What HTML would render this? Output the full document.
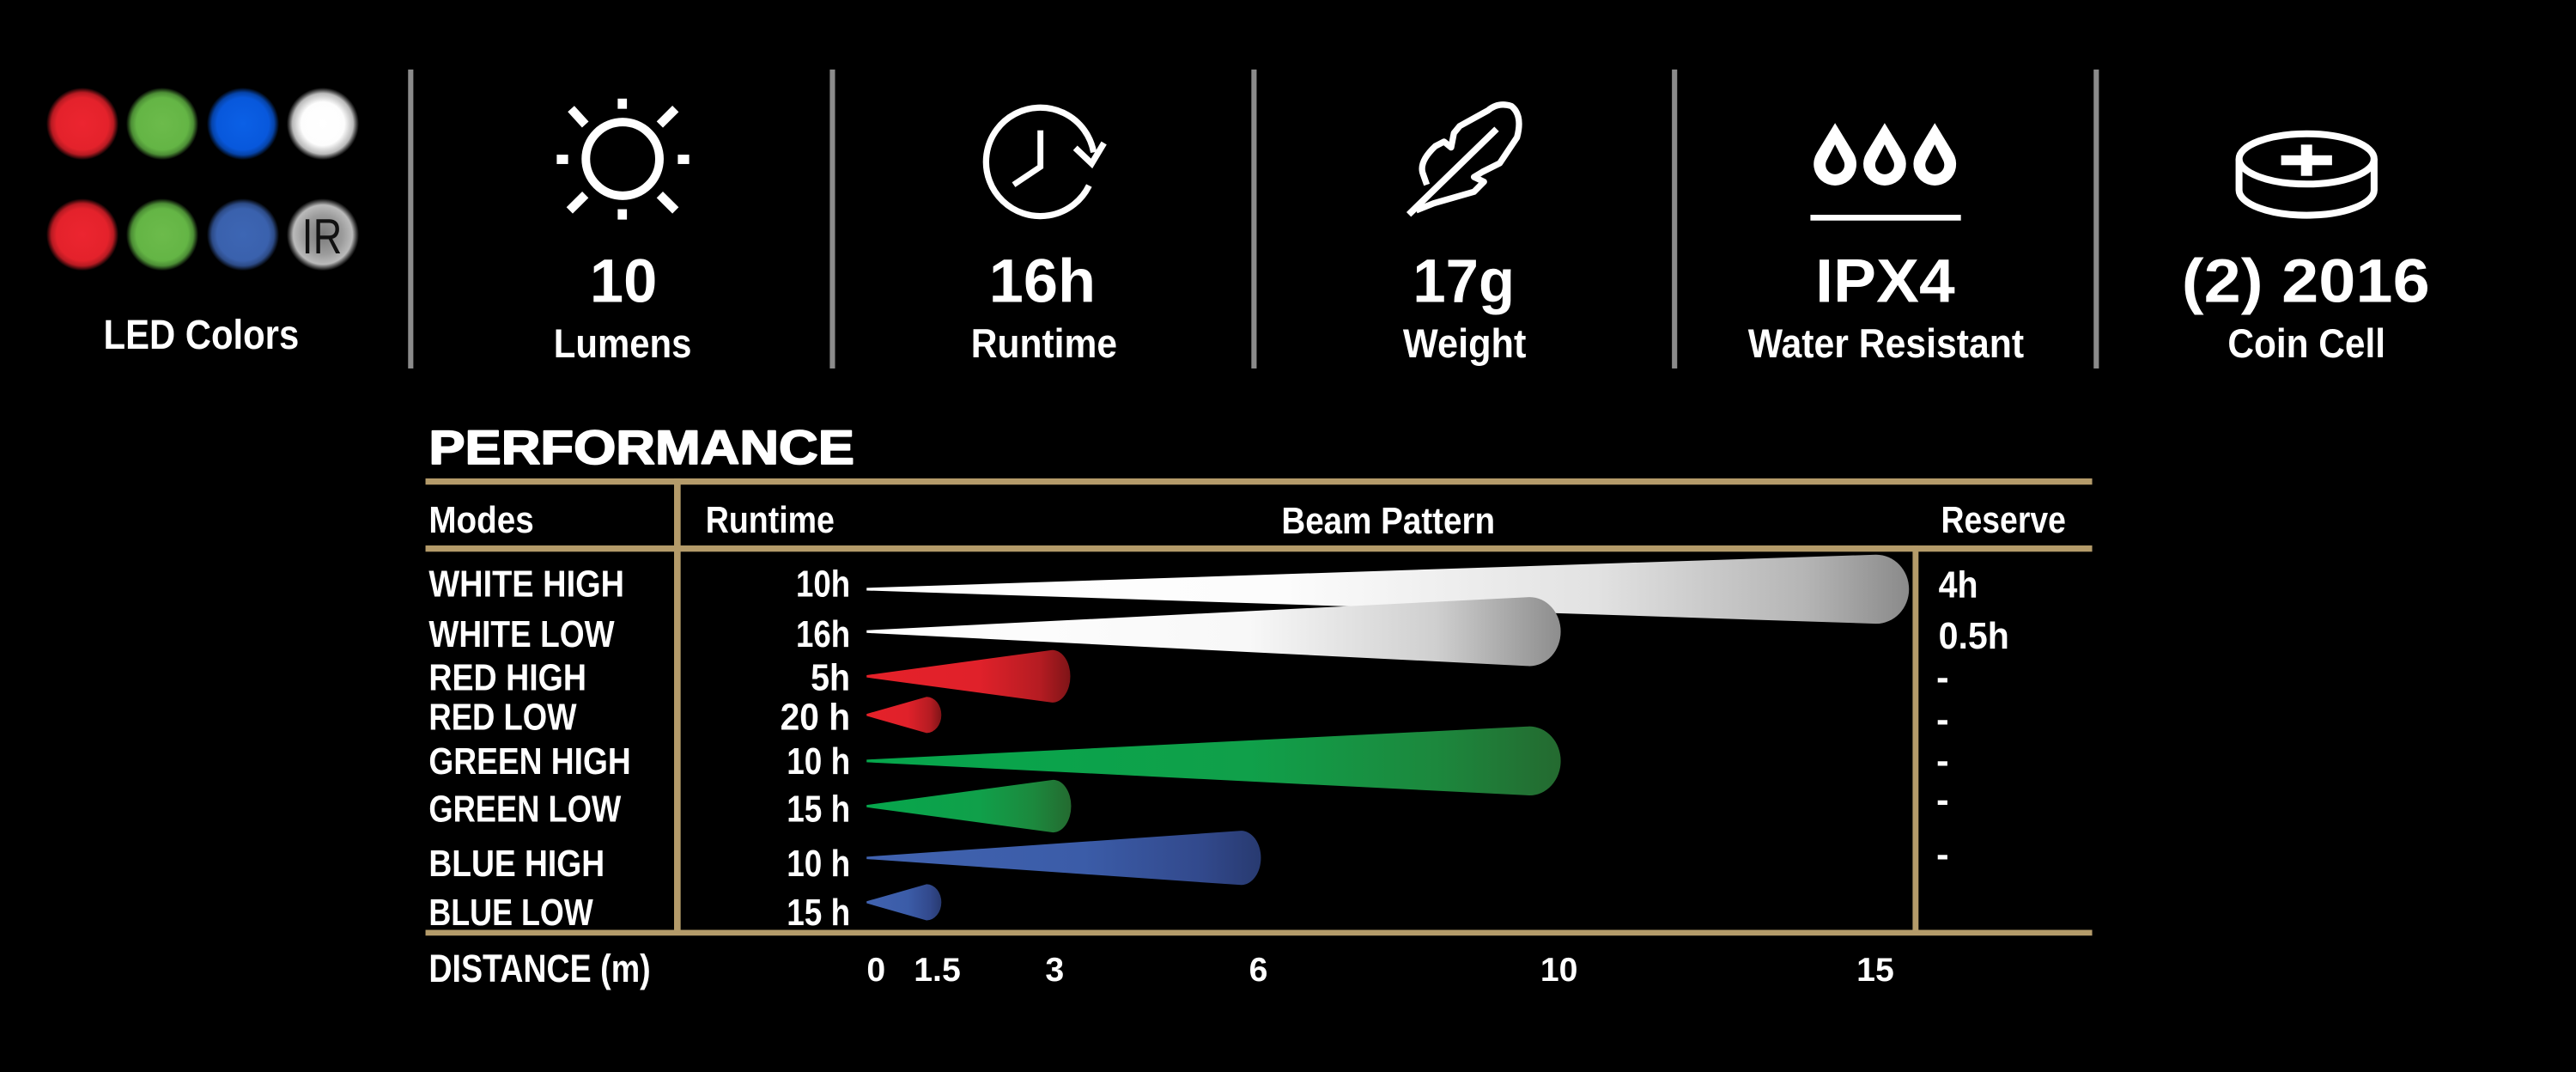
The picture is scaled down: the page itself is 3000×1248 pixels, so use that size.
<!DOCTYPE html>
<html>
<head>
<meta charset="utf-8">
<style>
html,body{margin:0;padding:0;background:#000;width:3000px;height:1248px;overflow:hidden}
svg{display:block}
.c{font-family:"Liberation Sans Narrow","Liberation Sans",Arial,sans-serif;font-weight:bold;fill:#fff}
.w{font-family:"Liberation Sans",Arial,sans-serif;font-weight:bold;fill:#fff}
</style>
</head>
<body>
<svg xmlns="http://www.w3.org/2000/svg" width="3000" height="1248" viewBox="0 0 1568 652.28" preserveAspectRatio="none">
<defs>
  <radialGradient id="lr"><stop offset="0" stop-color="#ec2530"/><stop offset="0.72" stop-color="#e4222b"/><stop offset="0.86" stop-color="#d81f28" stop-opacity="0.85"/><stop offset="1" stop-color="#d81f28" stop-opacity="0"/></radialGradient>
  <radialGradient id="lg"><stop offset="0" stop-color="#6cbb4b"/><stop offset="0.72" stop-color="#64b545"/><stop offset="0.86" stop-color="#5aa83f" stop-opacity="0.85"/><stop offset="1" stop-color="#5aa83f" stop-opacity="0"/></radialGradient>
  <radialGradient id="lb"><stop offset="0" stop-color="#0b60e6"/><stop offset="0.72" stop-color="#0858dc"/><stop offset="0.86" stop-color="#0750c8" stop-opacity="0.85"/><stop offset="1" stop-color="#0750c8" stop-opacity="0"/></radialGradient>
  <radialGradient id="lw"><stop offset="0" stop-color="#ffffff"/><stop offset="0.6" stop-color="#fdfdfd"/><stop offset="0.84" stop-color="#cfcfcf" stop-opacity="0.9"/><stop offset="1" stop-color="#aaa" stop-opacity="0"/></radialGradient>
  <radialGradient id="lb2"><stop offset="0" stop-color="#3d66b4"/><stop offset="0.72" stop-color="#3a61ad"/><stop offset="0.86" stop-color="#3559a0" stop-opacity="0.85"/><stop offset="1" stop-color="#3559a0" stop-opacity="0"/></radialGradient>
  <radialGradient id="lir"><stop offset="0" stop-color="#7a7a7a"/><stop offset="0.55" stop-color="#9c9c9c"/><stop offset="0.82" stop-color="#c4c4c4" stop-opacity="0.95"/><stop offset="1" stop-color="#aaa" stop-opacity="0"/></radialGradient>

  <linearGradient id="gwh" x1="0" y1="0" x2="1" y2="0"><stop offset="0" stop-color="#fff"/><stop offset="0.4" stop-color="#fcfcfc"/><stop offset="0.7" stop-color="#e2e2e2"/><stop offset="0.9" stop-color="#b5b5b5"/><stop offset="1" stop-color="#8a8a8a"/></linearGradient>
  <linearGradient id="gwl" x1="0" y1="0" x2="1" y2="0"><stop offset="0" stop-color="#fff"/><stop offset="0.55" stop-color="#f8f8f8"/><stop offset="0.82" stop-color="#cfcfcf"/><stop offset="1" stop-color="#8d8d8d"/></linearGradient>
  <linearGradient id="gr" x1="0" y1="0" x2="1" y2="0"><stop offset="0" stop-color="#e52129"/><stop offset="0.55" stop-color="#e0212a"/><stop offset="0.85" stop-color="#b51c22"/><stop offset="1" stop-color="#7e1417"/></linearGradient>
  <linearGradient id="gg" x1="0" y1="0" x2="1" y2="0"><stop offset="0" stop-color="#06a64c"/><stop offset="0.55" stop-color="#10a04a"/><stop offset="0.82" stop-color="#1c883d"/><stop offset="1" stop-color="#246a30"/></linearGradient>
  <linearGradient id="gb" x1="0" y1="0" x2="1" y2="0"><stop offset="0" stop-color="#4163b0"/><stop offset="0.55" stop-color="#3b5ca8"/><stop offset="0.85" stop-color="#32498c"/><stop offset="1" stop-color="#283a70"/></linearGradient>
</defs>

<rect x="0" y="0" width="1568" height="652.28" fill="#000"/>

<!-- LED circles -->
<circle cx="50.2" cy="75.3" r="22" fill="url(#lr)"/>
<circle cx="98.8" cy="75.3" r="22" fill="url(#lg)"/>
<circle cx="147.9" cy="75.3" r="22" fill="url(#lb)"/>
<circle cx="196.5" cy="75.3" r="22" fill="url(#lw)"/>
<circle cx="50.2" cy="142.8" r="22" fill="url(#lr)"/>
<circle cx="98.8" cy="142.8" r="22" fill="url(#lg)"/>
<circle cx="147.9" cy="142.8" r="22" fill="url(#lb2)"/>
<circle cx="196.5" cy="142.8" r="22" fill="url(#lir)"/>
<text x="196" y="154.2" font-family="Liberation Sans, Arial, sans-serif" font-size="30" fill="#111" text-anchor="middle" textLength="24.4" lengthAdjust="spacingAndGlyphs">IR</text>
<text class="c" x="122.5" y="212.3" font-size="25" text-anchor="middle" textLength="119" lengthAdjust="spacingAndGlyphs">LED Colors</text>

<!-- dividers -->
<g fill="#8b8b8b">
  <rect x="248.4" y="42.3" width="3.2" height="181.9"/>
  <rect x="505.1" y="42.3" width="3.2" height="181.9"/>
  <rect x="761.7" y="42.3" width="3.2" height="181.9"/>
  <rect x="1017.7" y="42.3" width="3.2" height="181.9"/>
  <rect x="1274.4" y="42.3" width="3.2" height="181.9"/>
</g>

<!-- sun -->
<g fill="#fff" stroke="#fff">
  <circle cx="379" cy="96.7" r="22.4" fill="none" stroke-width="5.2"/>
  <rect x="376" y="60" width="5.6" height="6.2" stroke="none"/>
  <rect x="376" y="127.3" width="5.6" height="6.3" stroke="none"/>
  <rect x="338.9" y="94.1" width="6.9" height="5.7" stroke="none"/>
  <rect x="412.6" y="94.1" width="6.9" height="5.7" stroke="none"/>
  <g stroke-width="5.4" fill="none">
    <line x1="347.6" y1="66.2" x2="356.3" y2="75.8"/>
    <line x1="411.2" y1="66.2" x2="401.6" y2="75.8"/>
    <line x1="356.3" y1="118.5" x2="346.7" y2="128"/>
    <line x1="401.6" y1="118.5" x2="411.2" y2="128"/>
  </g>
</g>

<!-- clock -->
<g fill="none" stroke="#fff" stroke-width="3.8">
  <path d="M 662.9 112.9 A 33 33 0 1 1 665.7 92.7"/>
  <polyline points="654.5,90 664.5,99.5 672,87"/>
  <polyline points="633.3,79.3 633.3,101.5 617,112.4" stroke-width="3.6"/>
</g>

<!-- feather -->
<g fill="none" stroke="#fff" stroke-width="3.8" stroke-linejoin="round">
  <line x1="857.5" y1="130.5" x2="911" y2="78.5" stroke-width="4"/>
  <path d="M 862 128 L 872.8 123.7 L 897.2 116.7 L 903.3 110.6 L 897.2 107.7 L 902.5 104.5 L 912.9 99.3 L 923.4 83.6 Q 927 70 919.9 64.5 Q 912 62 905.9 67.1 L 888.5 76.7 L 885 81 L 883.3 89.7 L 879 86.2 L 873.7 88.9 Q 864 98 865.9 105 L 868.5 112.4"/>
</g>

<!-- drops -->
<g fill="#fff">
  <path d="M 1117 74.9 L 1128.1 93.1 A 13 13 0 1 1 1105.9 93.1 Z"/>
  <path d="M 1147.2 74.9 L 1158.3 93.1 A 13 13 0 1 1 1136.1 93.1 Z"/>
  <path d="M 1177.7 74.9 L 1188.8 93.1 A 13 13 0 1 1 1166.6 93.1 Z"/>
  <rect x="1102" y="130.7" width="91.6" height="3.5"/>
</g>
<g fill="#000">
  <path d="M 1117 87.9 L 1122.1 97.6 A 5.75 5.75 0 1 1 1111.9 97.6 Z"/>
  <path d="M 1147.2 87.9 L 1152.3 97.6 A 5.75 5.75 0 1 1 1142.1 97.6 Z"/>
  <path d="M 1177.7 87.9 L 1182.8 97.6 A 5.75 5.75 0 1 1 1172.6 97.6 Z"/>
</g>

<!-- coin -->
<g fill="none" stroke="#fff" stroke-width="4.2">
  <ellipse cx="1404" cy="96.7" rx="41.1" ry="15.3"/>
  <path d="M 1362.9 96.7 L 1362.9 115.7 A 41.1 15.3 0 0 0 1445.1 115.7 L 1445.1 96.7"/>
</g>
<g fill="#fff">
  <rect x="1388.5" y="94.5" width="31" height="6"/>
  <rect x="1400.6" y="88" width="6.8" height="19"/>
</g>

<!-- top values -->
<g class="c" font-size="37.5" text-anchor="middle">
  <text class="c" x="379.5" y="183.8" textLength="41" lengthAdjust="spacingAndGlyphs">10</text>
  <text class="c" x="634.5" y="183.8" textLength="65" lengthAdjust="spacingAndGlyphs">16h</text>
  <text class="c" x="891" y="183.8" textLength="62" lengthAdjust="spacingAndGlyphs">17g</text>
  <text class="c" x="1147.5" y="183.8" textLength="85" lengthAdjust="spacingAndGlyphs">IPX4</text>
  <text class="c" x="1403.5" y="183.8" textLength="151" lengthAdjust="spacingAndGlyphs">(2) 2016</text>
</g>
<g class="c" font-size="24.5" text-anchor="middle">
  <text class="c" x="379" y="217.3" textLength="84" lengthAdjust="spacingAndGlyphs">Lumens</text>
  <text class="c" x="635.5" y="217.3" textLength="89" lengthAdjust="spacingAndGlyphs">Runtime</text>
  <text class="c" x="891.5" y="217.3" textLength="75" lengthAdjust="spacingAndGlyphs">Weight</text>
  <text class="c" x="1148" y="217.3" textLength="168" lengthAdjust="spacingAndGlyphs">Water Resistant</text>
  <text class="c" x="1404" y="217.3" textLength="96" lengthAdjust="spacingAndGlyphs">Coin Cell</text>
</g>

<!-- PERFORMANCE -->
<text class="w" x="261" y="282.2" font-size="29" stroke="#fff" stroke-width="0.9" stroke-linejoin="round" textLength="259" lengthAdjust="spacingAndGlyphs">PERFORMANCE</text>

<!-- gold table lines -->
<g fill="#b49b6a">
  <rect x="259" y="291.1" width="1014.5" height="3.8"/>
  <rect x="259" y="331.9" width="1014.5" height="3.8"/>
  <rect x="259" y="565.8" width="1014.5" height="3.5"/>
  <rect x="410.3" y="291.1" width="4" height="278"/>
  <rect x="1164.2" y="331.9" width="3.6" height="237"/>
</g>

<!-- header row -->
<g class="c" font-size="23">
  <text class="c" x="261" y="324" textLength="64" lengthAdjust="spacingAndGlyphs">Modes</text>
  <text class="c" x="429.5" y="324" textLength="78.5" lengthAdjust="spacingAndGlyphs">Runtime</text>
  <text class="c" x="780" y="324.5" textLength="130" lengthAdjust="spacingAndGlyphs">Beam Pattern</text>
  <text class="c" x="1181.5" y="324" textLength="76" lengthAdjust="spacingAndGlyphs">Reserve</text>
</g>

<!-- beams -->
<path d="M 527.5 357.7 L 1142 337.5 A 20 21 0 0 1 1142 379.5 L 527.5 359.3 Z" fill="url(#gwh)"/>
<path d="M 527.5 383.5 L 931 363.3 A 19 21 0 0 1 931 405.3 L 527.5 385.1 Z" fill="url(#gwl)"/>
<path d="M 527.5 410.8 L 640.5 395.5 A 11 16 0 0 1 640.5 427.5 L 527.5 412.2 Z" fill="url(#gr)"/>
<path d="M 527.5 434.4 L 564 424 A 9 11 0 0 1 564 446 L 527.5 435.6 Z" fill="url(#gr)"/>
<path d="M 527.5 462.2 L 931 442 A 19 21 0 0 1 931 484 L 527.5 463.8 Z" fill="url(#gg)"/>
<path d="M 527.5 489.8 L 641 474.5 A 11 16 0 0 1 641 506.5 L 527.5 491.2 Z" fill="url(#gg)"/>
<path d="M 527.5 521.3 L 755.5 505.5 A 12 16.5 0 0 1 755.5 538.5 L 527.5 522.7 Z" fill="url(#gb)"/>
<path d="M 527.5 548.4 L 564 538 A 9 11 0 0 1 564 560 L 527.5 549.6 Z" fill="url(#gb)"/>

<!-- mode labels -->
<g class="c" font-size="23">
  <text class="c" x="261" y="363" textLength="119" lengthAdjust="spacingAndGlyphs">WHITE HIGH</text>
  <text class="c" x="261" y="393.5" textLength="113" lengthAdjust="spacingAndGlyphs">WHITE LOW</text>
  <text class="c" x="261" y="420" textLength="96" lengthAdjust="spacingAndGlyphs">RED HIGH</text>
  <text class="c" x="261" y="444" textLength="90" lengthAdjust="spacingAndGlyphs">RED LOW</text>
  <text class="c" x="261" y="471" textLength="123" lengthAdjust="spacingAndGlyphs">GREEN HIGH</text>
  <text class="c" x="261" y="500" textLength="117" lengthAdjust="spacingAndGlyphs">GREEN LOW</text>
  <text class="c" x="261" y="533" textLength="107" lengthAdjust="spacingAndGlyphs">BLUE HIGH</text>
  <text class="c" x="261" y="563" textLength="100" lengthAdjust="spacingAndGlyphs">BLUE LOW</text>
</g>

<!-- runtime values -->
<g class="c" font-size="23" text-anchor="end">
  <text class="c" x="517.5" y="363" text-anchor="end" textLength="33" lengthAdjust="spacingAndGlyphs">10h</text>
  <text class="c" x="517.5" y="393.5" text-anchor="end" textLength="33" lengthAdjust="spacingAndGlyphs">16h</text>
  <text class="c" x="517.5" y="420" text-anchor="end" textLength="24" lengthAdjust="spacingAndGlyphs">5h</text>
  <text class="c" x="517.5" y="444" text-anchor="end" textLength="42.6" lengthAdjust="spacingAndGlyphs">20 h</text>
  <text class="c" x="517.5" y="471" text-anchor="end" textLength="38.6" lengthAdjust="spacingAndGlyphs">10 h</text>
  <text class="c" x="517.5" y="500" text-anchor="end" textLength="38.6" lengthAdjust="spacingAndGlyphs">15 h</text>
  <text class="c" x="517.5" y="533" text-anchor="end" textLength="38.6" lengthAdjust="spacingAndGlyphs">10 h</text>
  <text class="c" x="517.5" y="563" text-anchor="end" textLength="38.6" lengthAdjust="spacingAndGlyphs">15 h</text>
</g>

<!-- reserve -->
<g class="c" font-size="23">
  <text class="c" x="1180" y="363.5" textLength="24" lengthAdjust="spacingAndGlyphs">4h</text>
  <text class="c" x="1180" y="394.5" textLength="43" lengthAdjust="spacingAndGlyphs">0.5h</text>
  <text class="c" x="1178.6" y="419.8">-</text>
  <text class="c" x="1178.6" y="445.3">-</text>
  <text class="c" x="1178.6" y="470.3">-</text>
  <text class="c" x="1178.6" y="494.3">-</text>
  <text class="c" x="1178.6" y="527.3">-</text>
</g>

<!-- distance axis -->
<text class="c" x="261" y="597.5" font-size="23.5" textLength="135" lengthAdjust="spacingAndGlyphs">DISTANCE (m)</text>
<g class="c" font-size="20.5" text-anchor="middle">
  <text class="c" x="533.3" y="597">0</text>
  <text class="c" x="570.5" y="597">1.5</text>
  <text class="c" x="642" y="597">3</text>
  <text class="c" x="766" y="597">6</text>
  <text class="c" x="949" y="597">10</text>
  <text class="c" x="1141.5" y="597">15</text>
</g>
</svg>
</body>
</html>
